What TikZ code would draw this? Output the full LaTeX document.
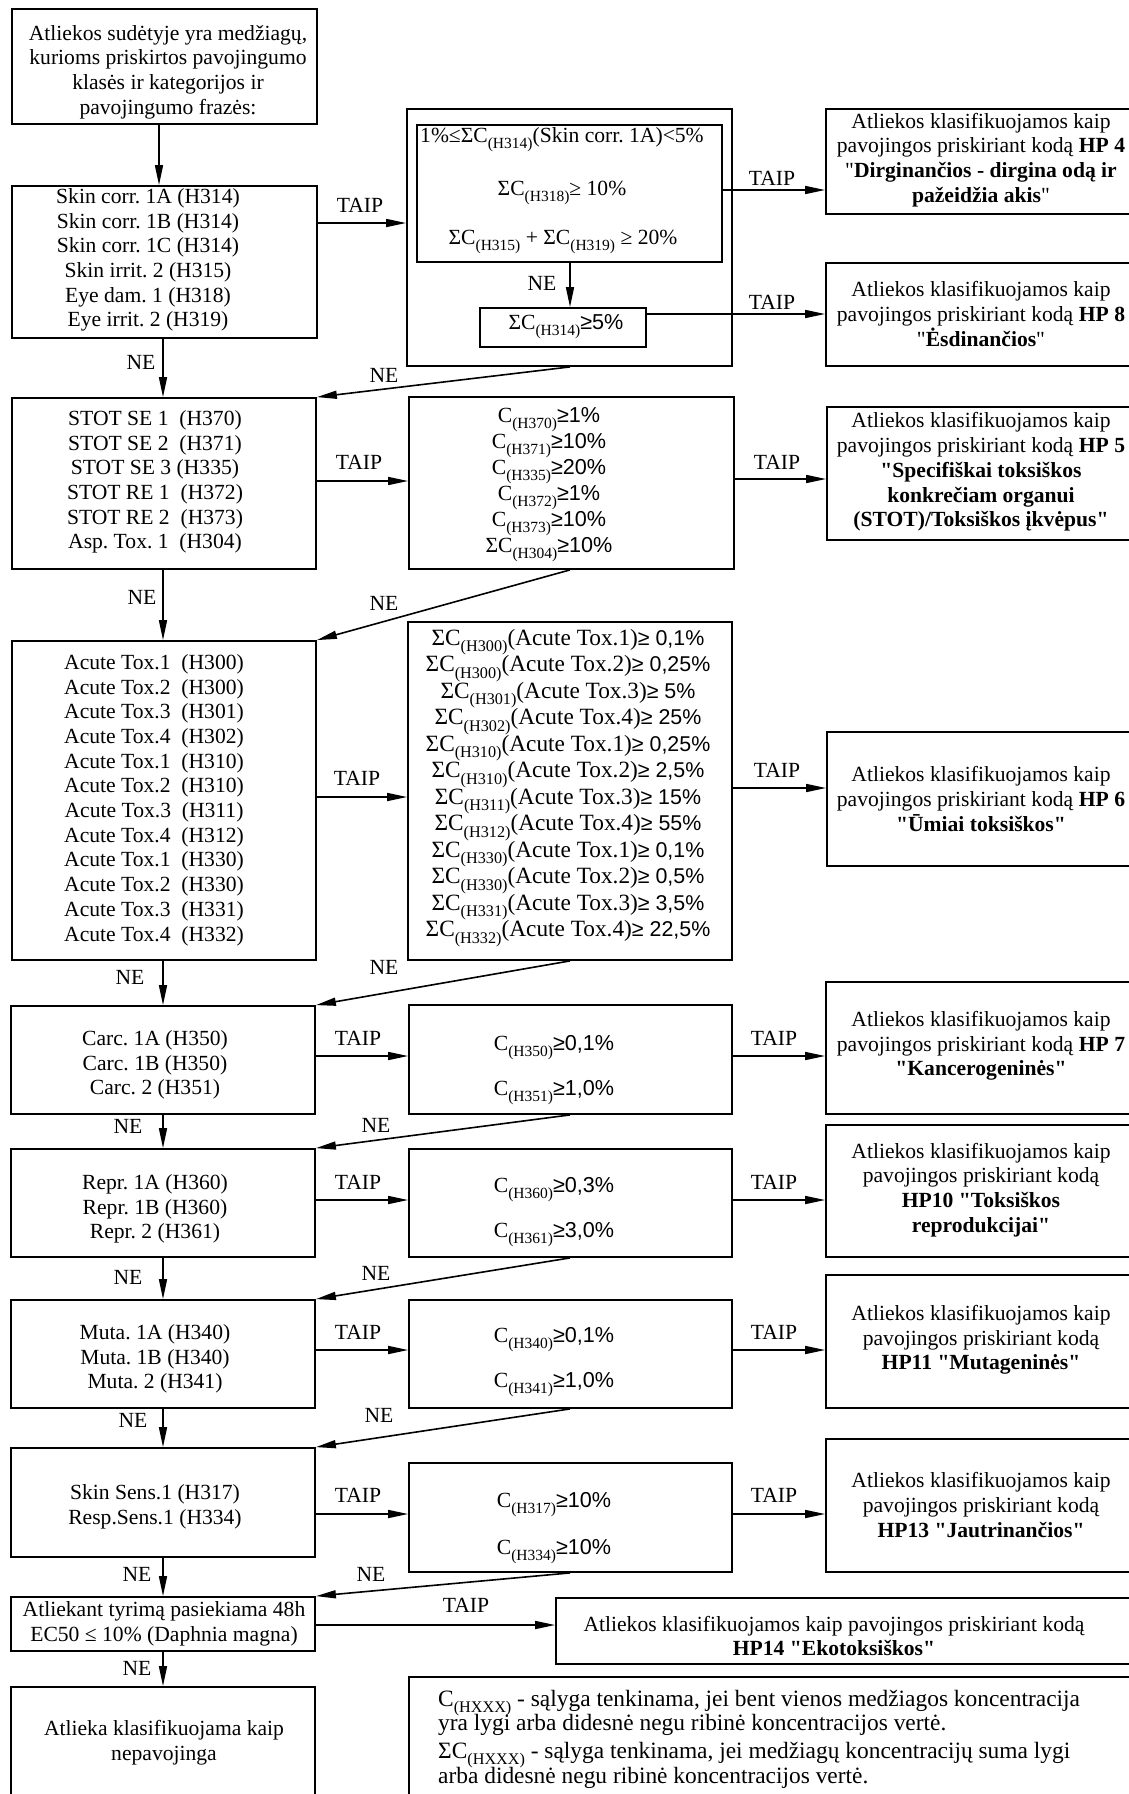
\documentclass[tikz,border=0pt]{standalone}
\usepackage{fontspec}
\setmainfont{Liberation Serif}
\newfontfamily\arialf{Liberation Sans}
\usetikzlibrary{fit,arrows.meta}
\newcommand{\sbx}[1]{\raisebox{-6pt}{\fontsize{15.5}{15.5}\selectfont #1}}
\newcommand{\sbxE}[1]{\raisebox{-6.5pt}{\fontsize{16.2}{16.2}\selectfont #1}}
\newcommand{\gs}[1]{{\arialf #1}}
\newcommand{\gsE}[1]{{\arialf\fontsize{21.4}{26}\selectfont #1}}
\newcommand{\qq}{\XeTeXglyph\XeTeXcharglyph"22\relax}
\tikzset{
  box/.style={draw, line width=1.8pt, inner sep=0pt},
  txt/.style={inner sep=0pt, align=center, font=\fontsize{21.6}{24.7}\selectfont},
  cond/.style={inner sep=0pt, anchor=base, font=\fontsize{21.6}{24.7}\selectfont},
  condE/.style={inner sep=0pt, anchor=base, font=\fontsize{23.3}{26}\selectfont},
  legt/.style={inner sep=0pt, anchor=base west, font=\fontsize{23.4}{26}\selectfont},
  arr/.style={line width=1.6pt, -{Triangle[length=20pt,width=8pt]}},
  lab/.style={inner sep=0pt, font=\fontsize{21.6}{24.7}\selectfont},
}
\begin{document}
\frenchspacing
\begin{tikzpicture}[x=1pt,y=-1pt]
\useasboundingbox (0,0) rectangle (1129,1794);
\clip (0,0) rectangle (1129,1794);
% ---------- left column boxes
\node[box, fit={(12,9) (317,124)}] (A) {};
\node[box, fit={(12,186) (317,338)}] (B) {};
\node[box, fit={(12,398) (316,569)}] (D) {};
\node[box, fit={(12,641) (316,960)}] (E) {};
\node[box, fit={(11,1006) (315,1114)}] (F) {};
\node[box, fit={(11,1149) (315,1257)}] (G) {};
\node[box, fit={(11,1300) (315,1408)}] (H) {};
\node[box, fit={(11,1448) (315,1557)}] (I) {};
\node[box, fit={(11,1597) (315,1651)}] (J) {};
\node[box, fit={(11,1687) (315,1800)}] (K) {};
% ---------- middle column boxes
\node[box, fit={(407,109) (732,366)}] (C) {};
\node[box, fit={(417,125) (722,262)}] (C1) {};
\node[box, fit={(480,308) (646,347)}] (C2) {};
\node[box, fit={(409,397) (734,569)}] (D2) {};
\node[box, fit={(408,622) (732,960)}] (E2) {};
\node[box, fit={(409,1005) (732,1114)}] (F2) {};
\node[box, fit={(409,1149) (732,1257)}] (G2) {};
\node[box, fit={(409,1300) (732,1408)}] (H2) {};
\node[box, fit={(409,1463) (732,1572)}] (I2) {};
% ---------- right column boxes
\node[box, fit={(826,109) (1140,214)}] (HP4) {};
\node[box, fit={(826,263) (1140,366)}] (HP8) {};
\node[box, fit={(827,407) (1140,540)}] (HP5) {};
\node[box, fit={(827,732) (1140,866)}] (HP6) {};
\node[box, fit={(826,982) (1140,1114)}] (HP7) {};
\node[box, fit={(826,1125) (1140,1257)}] (HP10) {};
\node[box, fit={(826,1275) (1140,1408)}] (HP11) {};
\node[box, fit={(826,1439) (1140,1572)}] (HP13) {};
\node[box, fit={(556,1598) (1140,1664)}] (HP14) {};
\node[box, fit={(409,1677) (1140,1800)}] (LEG) {};
% ---------- left texts
\node[txt] (At) at (168,72) {Atliekos sudėtyje yra medžiagų,\\kurioms priskirtos pavojingumo\\klasės ir kategorijos ir\\pavojingumo frazės:};
\node[txt] (Bt) at (148,260) {Skin corr. 1A (H314)\\Skin corr. 1B (H314)\\Skin corr. 1C (H314)\\Skin irrit. 2 (H315)\\Eye dam. 1 (H318)\\Eye irrit. 2 (H319)};
\node[txt] (Dt) at (155,482) {STOT SE 1~ (H370)\\STOT SE 2~ (H371)\\STOT SE 3 (H335)\\STOT RE 1~ (H372)\\STOT RE 2~ (H373)\\Asp. Tox. 1~ (H304)};
\node[txt] (Et) at (154,800) {Acute Tox.1~ (H300)\\Acute Tox.2~ (H300)\\Acute Tox.3~ (H301)\\Acute Tox.4~ (H302)\\Acute Tox.1~ (H310)\\Acute Tox.2~ (H310)\\Acute Tox.3~ (H311)\\Acute Tox.4~ (H312)\\Acute Tox.1~ (H330)\\Acute Tox.2~ (H330)\\Acute Tox.3~ (H331)\\Acute Tox.4~ (H332)};
\node[txt] (Ft) at (155,1065) {Carc. 1A (H350)\\Carc. 1B (H350)\\Carc. 2 (H351)};
\node[txt] (Gt) at (155,1209) {Repr. 1A (H360)\\Repr. 1B (H360)\\Repr. 2 (H361)};
\node[txt] (Ht) at (155,1359) {Muta. 1A (H340)\\Muta. 1B (H340)\\Muta. 2 (H341)};
\node[txt] (It) at (155,1507) {Skin Sens.1 (H317)\\Resp.Sens.1 (H334)};
\node[txt] (Jt) at (164,1624) {Atliekant tyrimą pasiekiama 48h\\EC50 ≤ 10\% (Daphnia magna)};
\node[txt] (Kt) at (164,1743) {Atlieka klasifikuojama kaip\\nepavojinga};
% ---------- middle texts
\node[cond, anchor=base west] (C1a) at (420,142) {1\%≤ΣC\sbx{(H314)}(Skin corr. 1A)<5\%};
\node[cond] (C1b) at (562,195) {ΣC\sbx{(H318)}≥ 10\%};
\node[cond] (C1c) at (563,244) {ΣC\sbx{(H315)} + ΣC\sbx{(H319)} ≥ 20\%};
\node[cond] (C2t) at (566,329) {ΣC\sbx{(H314)}\gs{≥5\%}};
\node[cond] (D2a) at (549,422) {C\sbx{(H370)}\gs{≥1\%}};
\node[cond] (D2b) at (549,448) {C\sbx{(H371)}\gs{≥10\%}};
\node[cond] (D2c) at (549,474) {C\sbx{(H335)}\gs{≥20\%}};
\node[cond] (D2d) at (549,500) {C\sbx{(H372)}\gs{≥1\%}};
\node[cond] (D2e) at (549,526) {C\sbx{(H373)}\gs{≥10\%}};
\node[cond] (D2f) at (549,552) {ΣC\sbx{(H304)}\gs{≥10\%}};
\node[condE] (E2a) at (568,645) {ΣC\sbxE{(H300)}(Acute Tox.1)\gsE{≥ 0,1\%}};
\node[condE] (E2b) at (568,671.5) {ΣC\sbxE{(H300)}(Acute Tox.2)\gsE{≥ 0,25\%}};
\node[condE] (E2c) at (568,698) {ΣC\sbxE{(H301)}(Acute Tox.3)\gsE{≥ 5\%}};
\node[condE] (E2d) at (568,724.5) {ΣC\sbxE{(H302)}(Acute Tox.4)\gsE{≥ 25\%}};
\node[condE] (E2e) at (568,751) {ΣC\sbxE{(H310)}(Acute Tox.1)\gsE{≥ 0,25\%}};
\node[condE] (E2f) at (568,777.5) {ΣC\sbxE{(H310)}(Acute Tox.2)\gsE{≥ 2,5\%}};
\node[condE] (E2g) at (568,804) {ΣC\sbxE{(H311)}(Acute Tox.3)\gsE{≥ 15\%}};
\node[condE] (E2h) at (568,830.5) {ΣC\sbxE{(H312)}(Acute Tox.4)\gsE{≥ 55\%}};
\node[condE] (E2i) at (568,857) {ΣC\sbxE{(H330)}(Acute Tox.1)\gsE{≥ 0,1\%}};
\node[condE] (E2j) at (568,883.5) {ΣC\sbxE{(H330)}(Acute Tox.2)\gsE{≥ 0,5\%}};
\node[condE] (E2k) at (568,910) {ΣC\sbxE{(H331)}(Acute Tox.3)\gsE{≥ 3,5\%}};
\node[condE] (E2l) at (568,936.5) {ΣC\sbxE{(H332)}(Acute Tox.4)\gsE{≥ 22,5\%}};
\node[cond] (F2a) at (554,1050) {C\sbx{(H350)}\gs{≥0,1\%}};
\node[cond] (F2b) at (554,1095) {C\sbx{(H351)}\gs{≥1,0\%}};
\node[cond] (G2a) at (554,1192) {C\sbx{(H360)}\gs{≥0,3\%}};
\node[cond] (G2b) at (554,1237) {C\sbx{(H361)}\gs{≥3,0\%}};
\node[cond] (H2a) at (554,1342) {C\sbx{(H340)}\gs{≥0,1\%}};
\node[cond] (H2b) at (554,1387) {C\sbx{(H341)}\gs{≥1,0\%}};
\node[cond] (I2a) at (554,1507) {C\sbx{(H317)}\gs{≥10\%}};
\node[cond] (I2b) at (554,1554) {C\sbx{(H334)}\gs{≥10\%}};
% ---------- right texts
\node[txt] (HP4t) at (981,160) {Atliekos klasifikuojamos kaip\\pavojingos priskiriant kodą \textbf{HP 4}\\\qq\textbf{Dirginančios - dirgina odą ir}\\\textbf{pažeidžia akis}\qq};
\node[txt] (HP8t) at (981,314) {Atliekos klasifikuojamos kaip\\pavojingos priskiriant kodą \textbf{HP 8}\\\qq\textbf{Ėsdinančios}\qq};
\node[txt] (HP5t) at (981,472) {Atliekos klasifikuojamos kaip\\pavojingos priskiriant kodą \textbf{HP 5}\\\textbf{\qq Specifiškai toksiškos}\\\textbf{konkrečiam organui}\\\textbf{(STOT)/Toksiškos įkvėpus\qq}};
\node[txt] (HP6t) at (981,799) {Atliekos klasifikuojamos kaip\\pavojingos priskiriant kodą \textbf{HP 6}\\\textbf{\qq Ūmiai toksiškos\qq}};
\node[txt] (HP7t) at (981,1046) {Atliekos klasifikuojamos kaip\\pavojingos priskiriant kodą \textbf{HP 7}\\\textbf{\qq Kancerogeninės\qq}};
\node[txt] (HP10t) at (981,1190) {Atliekos klasifikuojamos kaip\\pavojingos priskiriant kodą\\\textbf{HP10 \qq Toksiškos}\\\textbf{reprodukcijai\qq}};
\node[txt] (HP11t) at (981,1340) {Atliekos klasifikuojamos kaip\\pavojingos priskiriant kodą\\\textbf{HP11 \qq Mutageninės\qq}};
\node[txt] (HP13t) at (981,1505) {Atliekos klasifikuojamos kaip\\pavojingos priskiriant kodą\\\textbf{HP13 \qq Jautrinančios\qq}};
\node[txt] (HP14t) at (834,1636) {Atliekos klasifikuojamos kaip pavojingos priskiriant kodą\\\textbf{HP14 \qq Ekotoksiškos\qq}};
\node[legt] (L1) at (438,1706) {C\sbxE{(HXXX)} - sąlyga tenkinama, jei bent vienos medžiagos koncentracija};
\node[legt] (L2) at (438,1730) {yra lygi arba didesnė negu ribinė koncentracijos vertė.};
\node[legt] (L3) at (438,1758) {ΣC\sbxE{(HXXX)} - sąlyga tenkinama, jei medžiagų koncentracijų suma lygi};
\node[legt] (L4) at (438,1783) {arba didesnė negu ribinė koncentracijos vertė.};
% ---------- helper coordinates
\coordinate (vA) at (159,0);
\coordinate (vL) at (163,0);
\coordinate (vM) at (570,0);
\coordinate (hB) at (0,223);
\coordinate (hD) at (0,481);
\coordinate (hE) at (0,797);
\coordinate (hF) at (0,1056);
\coordinate (hG) at (0,1200);
\coordinate (hH) at (0,1350);
\coordinate (hI) at (0,1514);
\coordinate (hJ) at (0,1625);
\coordinate (h4) at (0,190);
\coordinate (h8) at (0,314);
\coordinate (h5) at (0,479);
\coordinate (h6) at (0,788);
% ---------- vertical NE arrows
\draw[arr] (A.south -| vA) -- (B.north -| vA);
\draw[arr] (B.south -| vL) -- (D.north -| vL);
\draw[arr] (D.south -| vL) -- (E.north -| vL);
\draw[arr] (E.south -| vL) -- (F.north -| vL);
\draw[arr] (F.south -| vL) -- (G.north -| vL);
\draw[arr] (G.south -| vL) -- (H.north -| vL);
\draw[arr] (H.south -| vL) -- (I.north -| vL);
\draw[arr] (I.south -| vL) -- (J.north -| vL);
\draw[arr] (J.south -| vL) -- (K.north -| vL);
\draw[arr] (C1.south -| vM) -- (C2.north -| vM);
% ---------- diagonal NE arrows
\draw[arr] (C.south -| vM) -- (D.north east);
\draw[arr] (D2.south -| vM) -- (E.north east);
\draw[arr] (E2.south -| vM) -- (F.north east);
\draw[arr] (F2.south -| vM) -- (G.north east);
\draw[arr] (G2.south -| vM) -- (H.north east);
\draw[arr] (H2.south -| vM) -- (I.north east);
\draw[arr] (I2.south -| vM) -- (J.north east);
% ---------- TAIP arrows
\draw[arr] (B.east |- hB) -- (C.west |- hB);
\draw[arr] (D.east |- hD) -- (D2.west |- hD);
\draw[arr] (E.east |- hE) -- (E2.west |- hE);
\draw[arr] (F.east |- hF) -- (F2.west |- hF);
\draw[arr] (G.east |- hG) -- (G2.west |- hG);
\draw[arr] (H.east |- hH) -- (H2.west |- hH);
\draw[arr] (I.east |- hI) -- (I2.west |- hI);
\draw[arr] (J.east |- hJ) -- (HP14.west |- hJ);
\draw[arr] (C1.east |- h4) -- (HP4.west |- h4);
\draw[arr] (C2.east |- h8) -- (HP8.west |- h8);
\draw[arr] (D2.east |- h5) -- (HP5.west |- h5);
\draw[arr] (E2.east |- h6) -- (HP6.west |- h6);
\draw[arr] (F2.east |- hF) -- (HP7.west |- hF);
\draw[arr] (G2.east |- hG) -- (HP10.west |- hG);
\draw[arr] (H2.east |- hH) -- (HP11.west |- hH);
\draw[arr] (I2.east |- hI) -- (HP13.west |- hI);
% ---------- labels
\node[lab] (tB) at (360,205) {TAIP};
\node[lab] (tD) at (359,462) {TAIP};
\node[lab] (tE) at (357,778) {TAIP};
\node[lab] (tF) at (358,1038) {TAIP};
\node[lab] (tG) at (358,1182) {TAIP};
\node[lab] (tH) at (358,1332) {TAIP};
\node[lab] (tI) at (358,1495) {TAIP};
\node[lab] (tJ) at (466,1605) {TAIP};
\node[lab] (t4) at (772,178) {TAIP};
\node[lab] (t8) at (772,302) {TAIP};
\node[lab] (t5) at (777,462) {TAIP};
\node[lab] (t6) at (777,770) {TAIP};
\node[lab] (t7) at (774,1038) {TAIP};
\node[lab] (t10) at (774,1182) {TAIP};
\node[lab] (t11) at (774,1332) {TAIP};
\node[lab] (t13) at (774,1495) {TAIP};
\node[lab] (nB) at (141,362) {NE};
\node[lab] (nD) at (142,597) {NE};
\node[lab] (nE) at (130,977) {NE};
\node[lab] (nF) at (128,1126) {NE};
\node[lab] (nG) at (128,1277) {NE};
\node[lab] (nH) at (133,1420) {NE};
\node[lab] (nI) at (137,1574) {NE};
\node[lab] (nJ) at (137,1668) {NE};
\node[lab] (nC1) at (542,283) {NE};
\node[lab] (dC) at (384,375) {NE};
\node[lab] (dD) at (384,603) {NE};
\node[lab] (dE) at (384,967) {NE};
\node[lab] (dF) at (376,1125) {NE};
\node[lab] (dG) at (376,1273) {NE};
\node[lab] (dH) at (379,1415) {NE};
\node[lab] (dI) at (371,1574) {NE};
\end{tikzpicture}
\end{document}
